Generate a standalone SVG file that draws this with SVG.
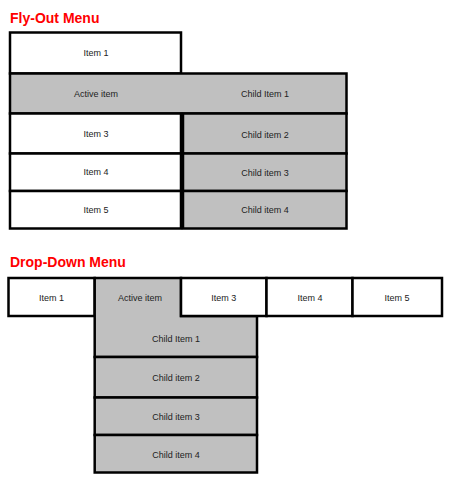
<svg xmlns="http://www.w3.org/2000/svg" width="450" height="483" viewBox="0 0 450 483">
<style>
.title{font-family:"Liberation Sans",Arial,sans-serif;font-weight:bold;font-size:14px;fill:#ff0000}
.cell{stroke:#000;stroke-width:2.5}
.w{fill:#fff}
.g{fill:#c0c0c0}
.t{font-family:"Liberation Sans",Arial,sans-serif;font-size:9px;fill:#222;text-anchor:middle}
</style>
<rect width="450" height="483" fill="#fff"/>
<text class="title" x="10" y="23">Fly-Out Menu</text>
<text class="title" x="10" y="266.5">Drop-Down Menu</text>

<g id="flyout">
  <g id="fo-item1"><rect class="cell w" x="10" y="32.5" width="171" height="41"/><text class="t" x="96" y="56.2">Item 1</text></g>
  <g id="fo-active"><rect class="cell g" x="10" y="73.5" width="336.5" height="40"/><text class="t" x="96" y="97.4">Active item</text><text class="t" x="265" y="97.4">Child Item 1</text></g>
  <g id="fo-item3"><rect class="cell w" x="10" y="113.5" width="171" height="40"/><text class="t" x="96" y="136.6">Item 3</text></g>
  <g id="fo-item4"><rect class="cell w" x="10" y="153.5" width="171" height="37.5"/><text class="t" x="96" y="175.4">Item 4</text></g>
  <g id="fo-item5"><rect class="cell w" x="10" y="191" width="171" height="37.5"/><text class="t" x="96" y="213">Item 5</text></g>
  <g id="fo-child2"><rect class="cell g" x="183" y="113.5" width="163.5" height="40"/><text class="t" x="265" y="138.2">Child item 2</text></g>
  <g id="fo-child3"><rect class="cell g" x="183" y="153.5" width="163.5" height="37.5"/><text class="t" x="265" y="175.9">Child item 3</text></g>
  <g id="fo-child4"><rect class="cell g" x="183" y="191" width="163.5" height="37.5"/><text class="t" x="265" y="213.2">Child item 4</text></g>
</g>

<g id="dropdown">
  <g id="dd-item1"><rect class="cell w" x="8.5" y="278" width="86.2" height="38"/><text class="t" x="51.6" y="300.8">Item 1</text></g>
  <g id="dd-active"><path class="cell g" d="M94.7,278 H181 V316 H257 V357 H94.7 Z"/><text class="t" x="140" y="300.8">Active item</text><text class="t" x="176" y="342">Child Item 1</text></g>
  <g id="dd-item3"><rect class="cell w" x="181" y="278" width="85.5" height="38"/><text class="t" x="223.7" y="300.8">Item 3</text></g>
  <g id="dd-item4"><rect class="cell w" x="266.5" y="278" width="86" height="38"/><text class="t" x="310" y="300.8">Item 4</text></g>
  <g id="dd-item5"><rect class="cell w" x="352.5" y="278" width="89.5" height="38"/><text class="t" x="397" y="300.8">Item 5</text></g>
  <g id="dd-child2"><rect class="cell g" x="94.7" y="357" width="162.3" height="40.5"/><text class="t" x="176" y="380.9">Child item 2</text></g>
  <g id="dd-child3"><rect class="cell g" x="94.7" y="397.5" width="162.3" height="37.5"/><text class="t" x="176" y="419.9">Child item 3</text></g>
  <g id="dd-child4"><rect class="cell g" x="94.7" y="435" width="162.3" height="37.5"/><text class="t" x="176" y="457.5">Child item 4</text></g>
</g>
<g id="connectors"/>
</svg>
